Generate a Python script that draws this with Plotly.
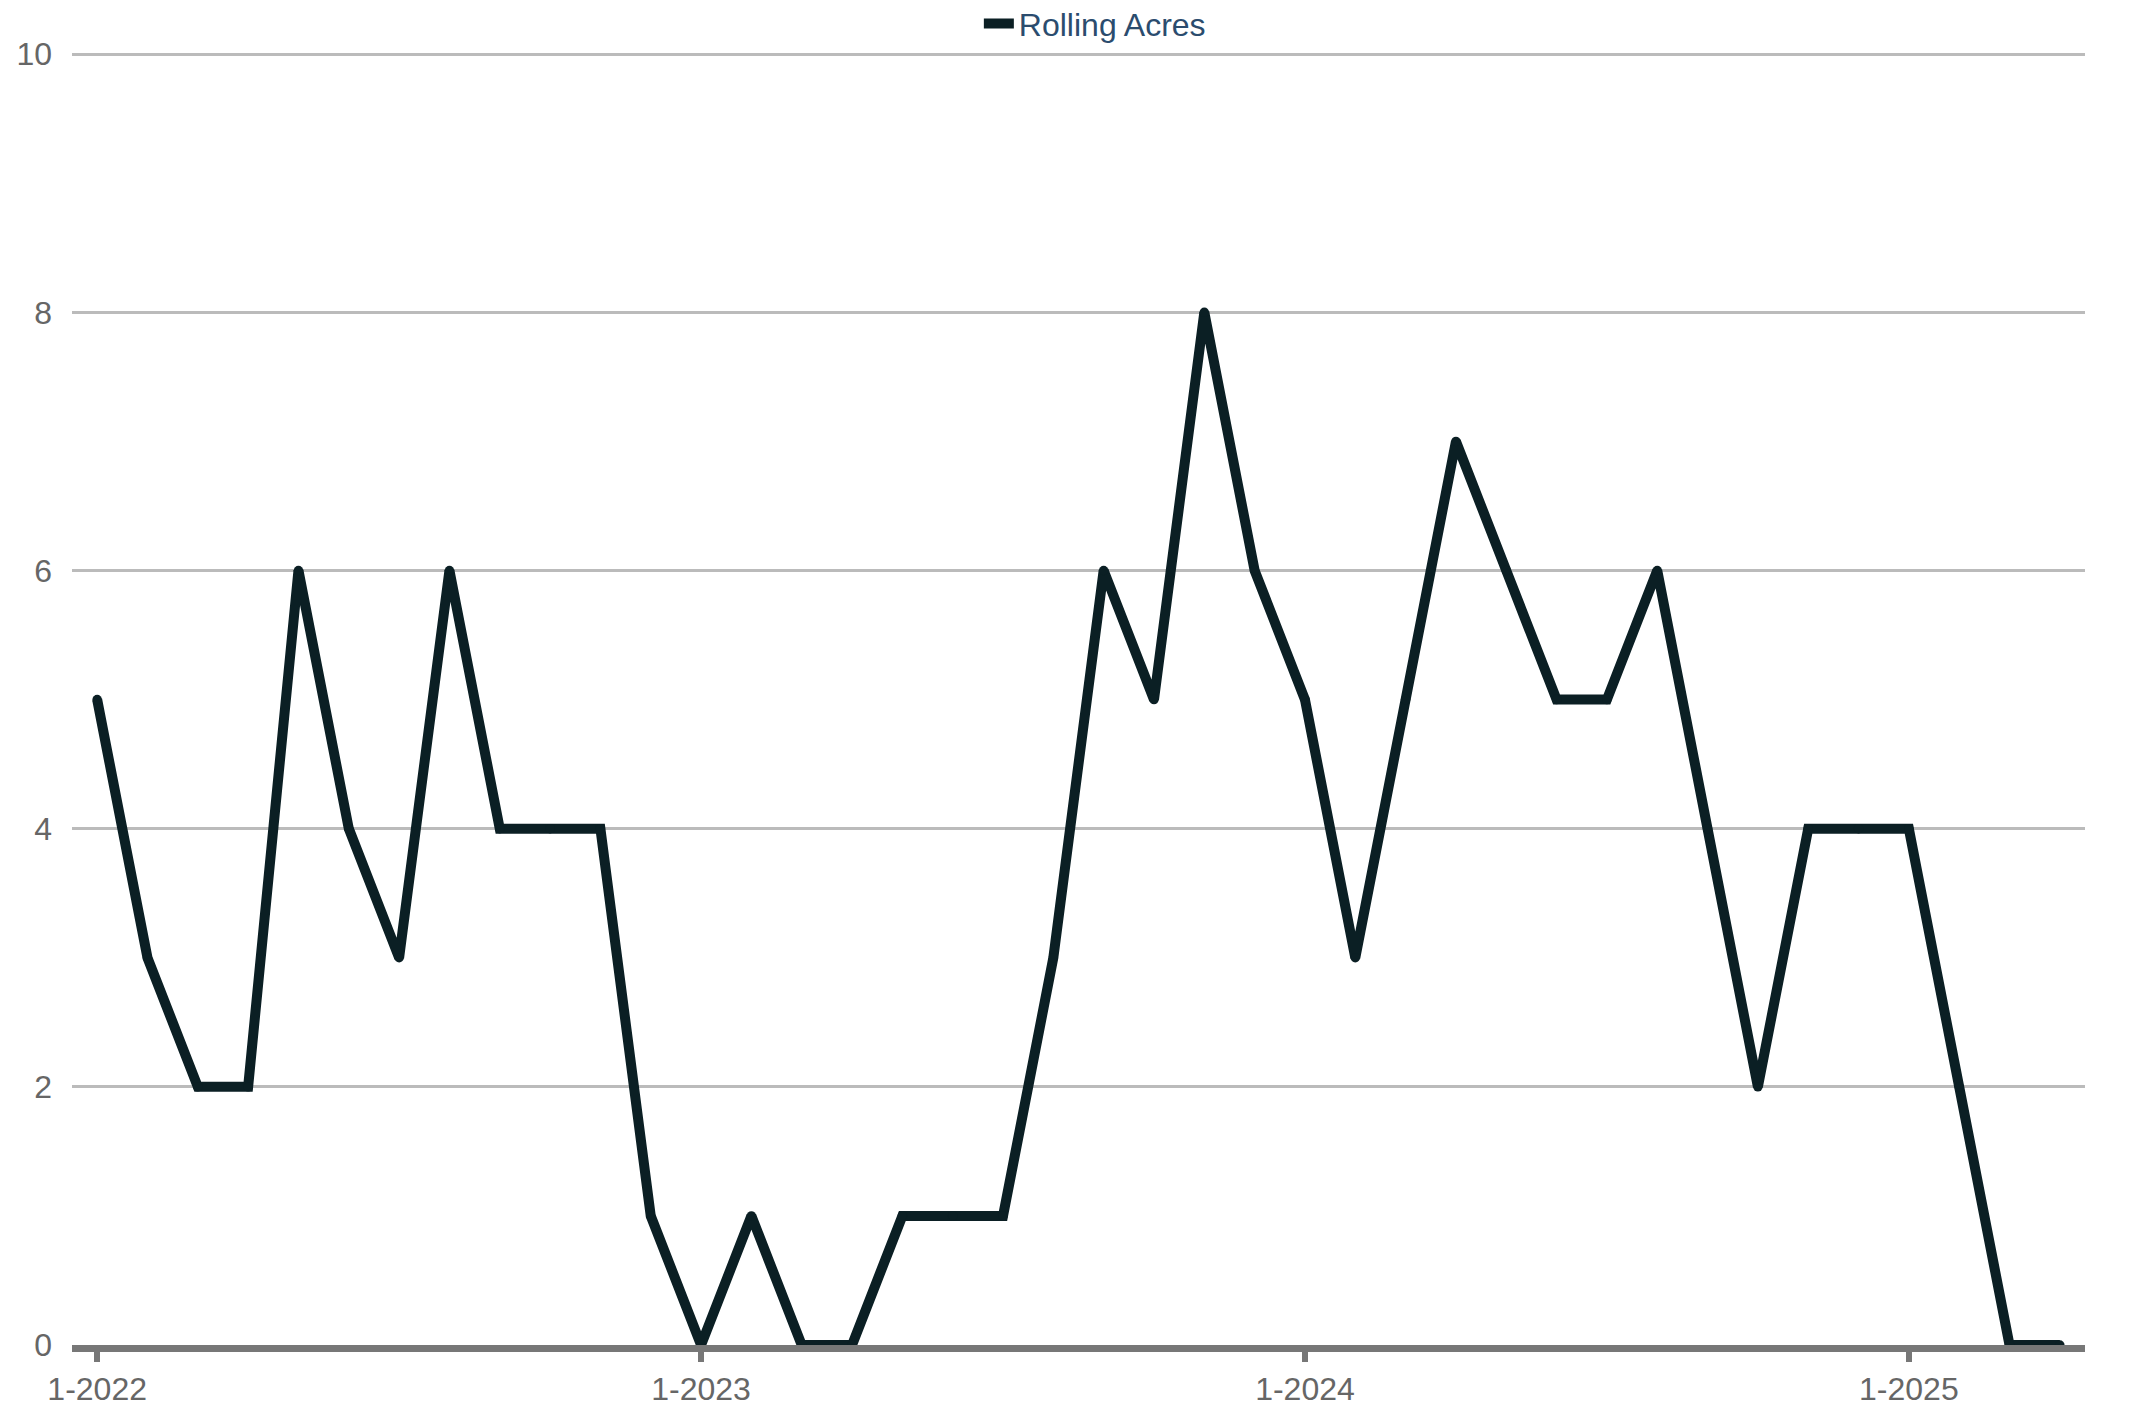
import plotly.graph_objects as go

months = [f"{m}-{y}" for y in (2022, 2023, 2024, 2025) for m in range(1, 13)][:40]
values = [5, 3, 2, 2, 6, 4, 3, 6, 4, 4, 4, 1,
          0, 1, 0, 0, 1, 1, 1, 3, 6, 5, 8, 6,
          5, 3, 5, 7, 6, 5, 5, 6, 4, 2, 4, 4,
          4, 2, 0, 0]
tick_labels = ["1-2022", "1-2023", "1-2024", "1-2025"]
y_ticks = [0, 2, 4, 6, 8, 10]
series_name = "Rolling Acres"
line_color = "#0b1f24"

fig = go.Figure()
fig.add_trace(go.Scatter(
    x=months, y=values, mode="lines", name=series_name,
    line=dict(color=line_color, width=10),
    showlegend=True,
))
# round joins / caps
fig.add_trace(go.Scatter(
    x=months, y=values, mode="markers", showlegend=False, hoverinfo="skip",
    marker=dict(color=line_color, size=9.5, line=dict(width=0)),
))

# page body has an 8px margin, so the figure is 8px smaller and margins shifted
fig.update_layout(
    width=2142, height=1402,
    margin=dict(l=64, r=65, t=41, b=65, autoexpand=False),
    paper_bgcolor="white", plot_bgcolor="white",
    font=dict(family="Liberation Sans, Arial, sans-serif", size=32, color="#666666"),
    showlegend=True,
    legend=dict(orientation="h", x=0.4505, xanchor="left", y=1.0195, yanchor="middle",
                font=dict(size=32, color="#2b4c6e"), bgcolor="rgba(0,0,0,0)"),
    xaxis=dict(
        type="category", categoryorder="array", categoryarray=months,
        range=[-0.5, len(months) - 0.5],
        tickmode="array", tickvals=tick_labels, ticktext=tick_labels,
        showgrid=False, showline=True, linecolor="#777777", linewidth=7,
        ticks="outside", ticklen=10, tickwidth=6, tickcolor="#777777",
        tickfont=dict(size=32, color="#666666"), zeroline=False,
        layer="below traces",
    ),
    yaxis=dict(
        range=[0, 10.04], tickvals=y_ticks,
        showgrid=True, gridcolor="#bbbbbb", gridwidth=3,
        zeroline=False, showline=False, ticks="",
        ticklabelstandoff=19,
        tickfont=dict(size=32, color="#666666"),
    ),
)

fig.write_html("out.html")
